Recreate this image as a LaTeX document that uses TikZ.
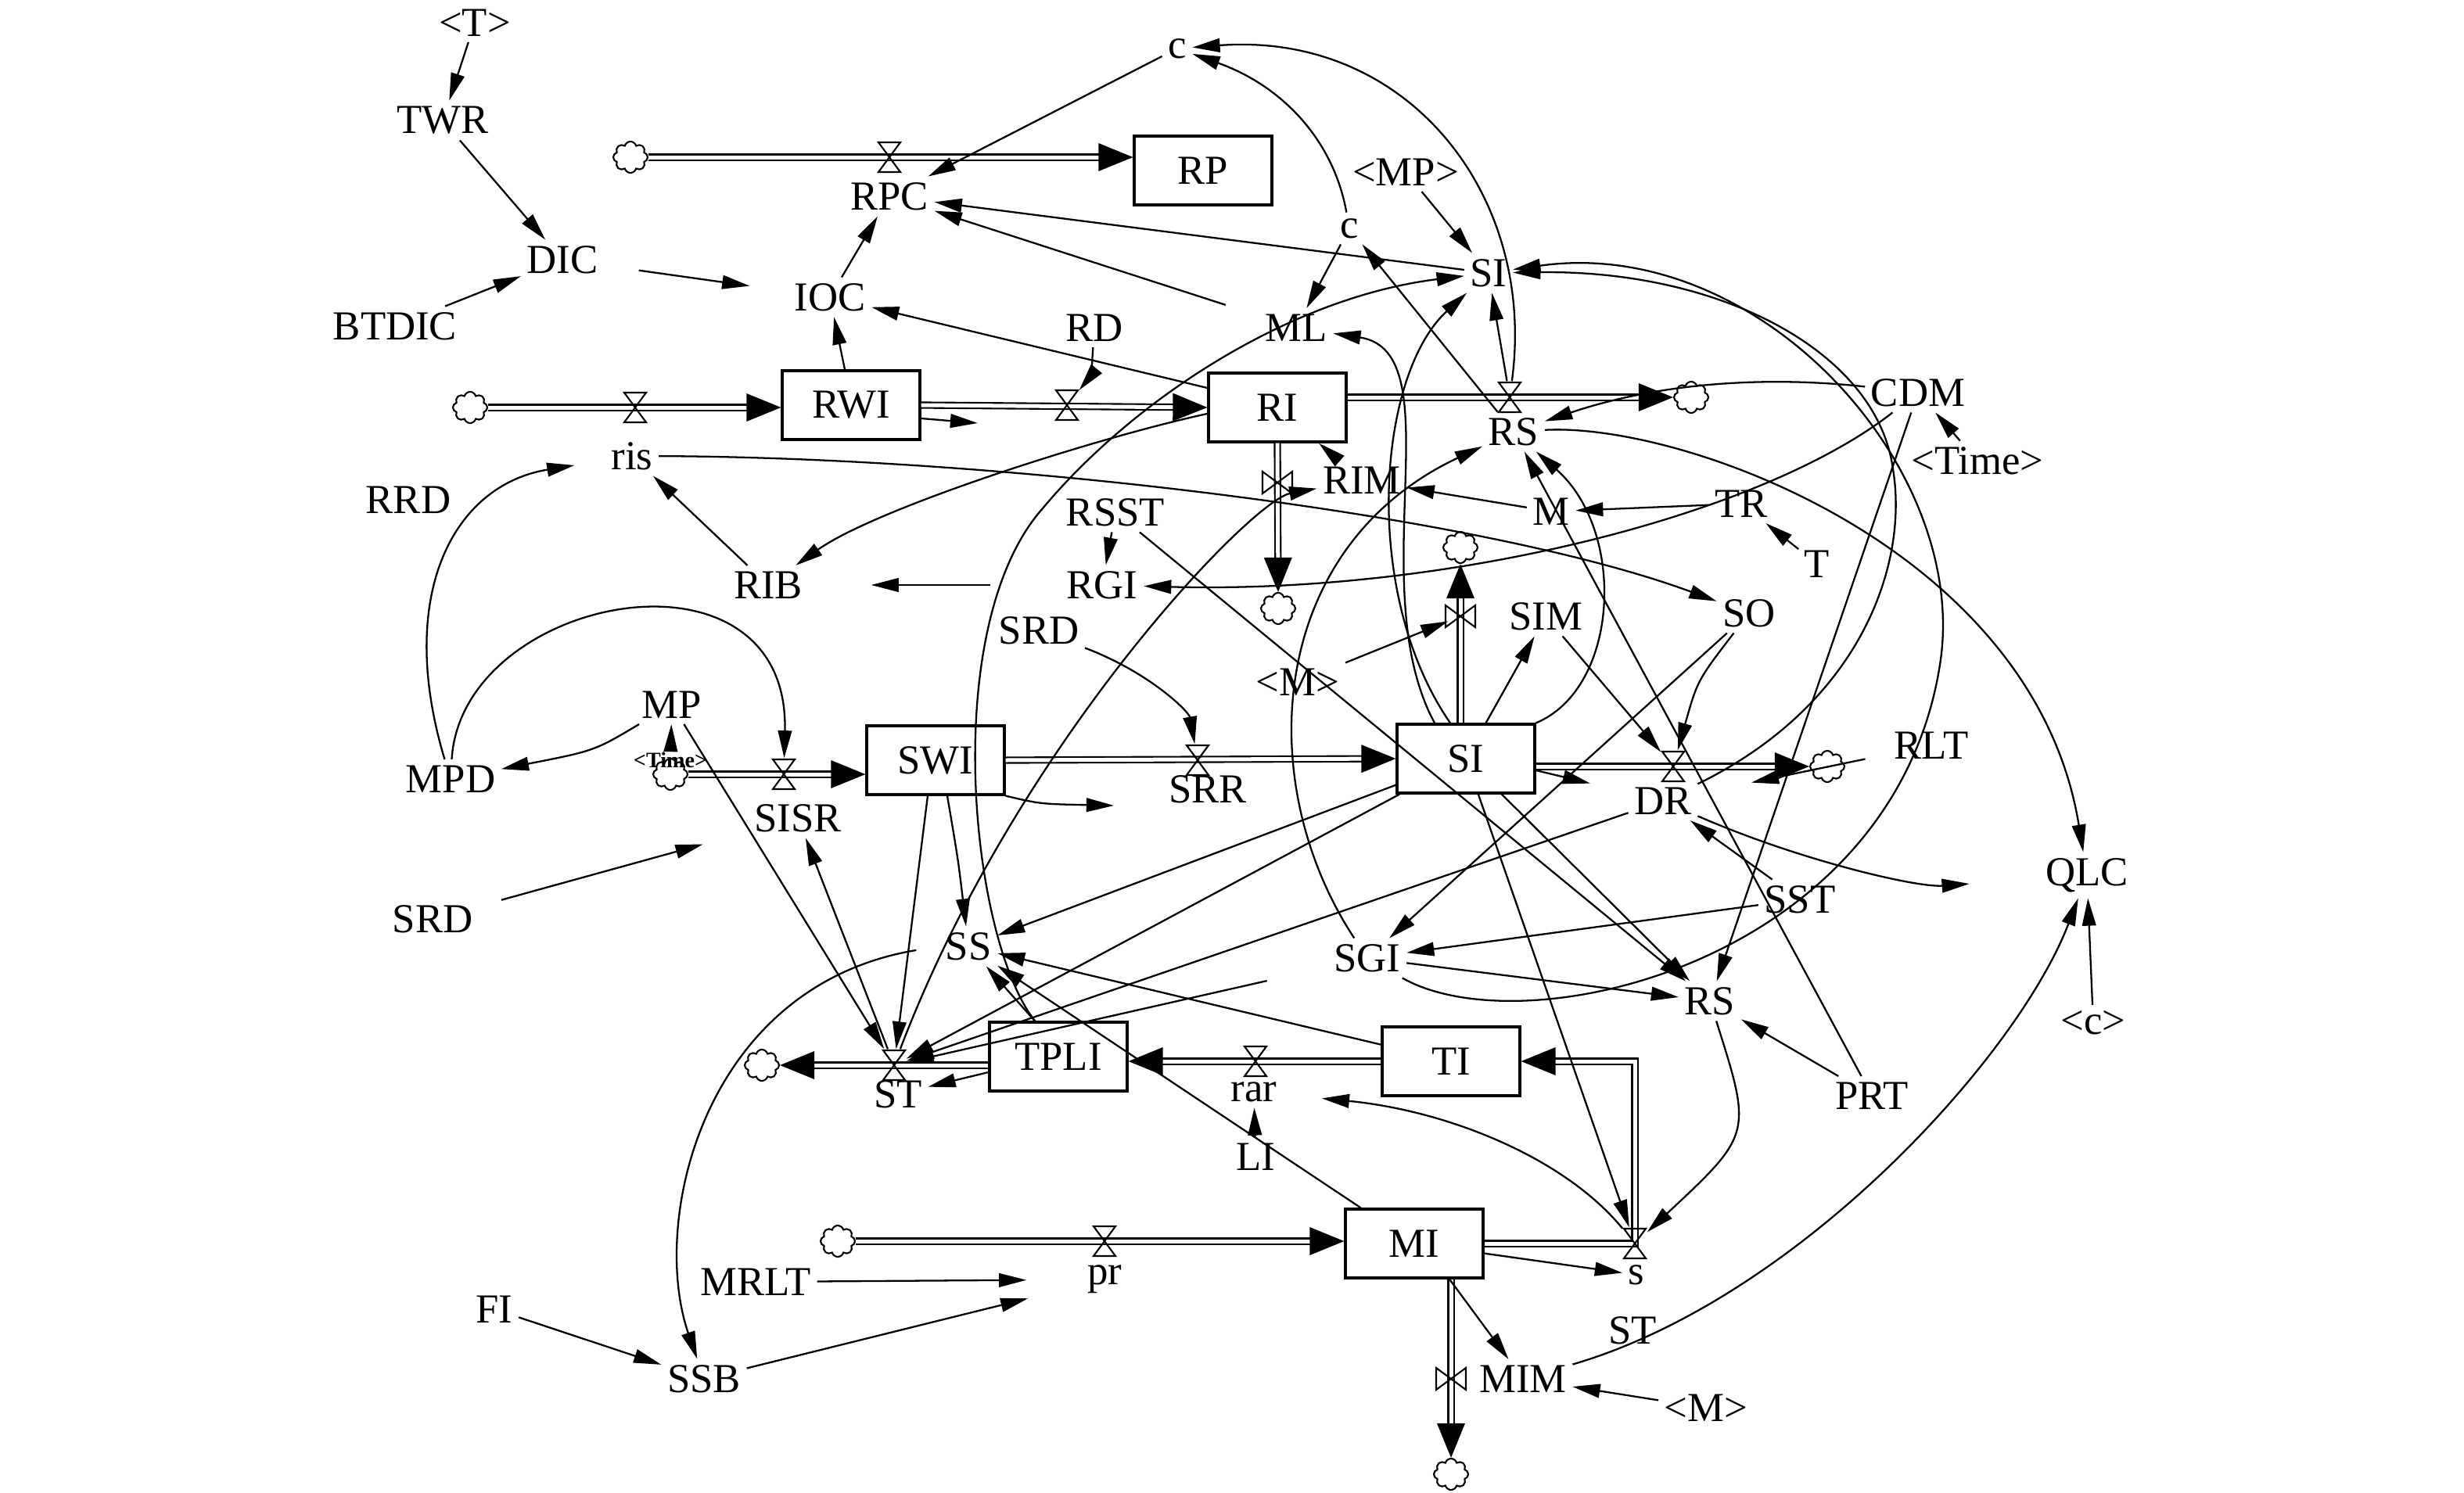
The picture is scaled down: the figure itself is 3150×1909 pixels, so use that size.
\documentclass[tikz,border=0pt]{standalone}
\usepackage{fontspec}
\setmainfont{Liberation Serif}
\usetikzlibrary{arrows.meta,calc,shapes.symbols}
\newcommand\lab{\fontsize{15}{17}\selectfont}
\newcommand\flow[2]{%
  \coordinate (fs) at #1; \coordinate (ft) at #2;
  \draw[pipe,shorten >=0.14cm] (fs) -- (ft);
  \coordinate (fb) at ($(ft)!0.44cm!(fs)$);
  \fill (ft) -- ($(fb)!0.18cm!90:(ft)$) -- ($(fb)!0.18cm!-90:(ft)$) -- cycle;}
\newcommand\vh[1]{\draw[valve] (#1) ++(-14,-19) -- ++(28,0) -- ++(-28,38) -- ++(28,0) -- cycle;}
\newcommand\vv[1]{\draw[valve] (#1) ++(-19,-14) -- ++(0,28) -- ++(38,-28) -- ++(0,28) -- cycle;}
\begin{document}
\begin{tikzpicture}[x=0.01cm,y=-0.01cm,
  lab/.style={font=\lab, inner sep=2pt},
  small/.style={font=\fontsize{8}{9}\selectfont\bfseries, inner sep=1pt},
  box/.style={draw, line width=0.9pt, fill=white, minimum width=1.76cm, minimum height=0.88cm, font=\lab, inner sep=0pt},
  cl/.style={cloud, draw, fill=white, cloud puffs=8, aspect=1.1, minimum width=0.44cm, minimum height=0.4cm, inner sep=0pt, line width=0.6pt},
  vn/.style={inner sep=0pt, minimum width=0.3cm, minimum height=0.4cm},
  valve/.style={line width=0.6pt},
  pipe/.style={double=white, double distance=0.05cm, line width=0.6pt},
  lk/.style={line width=0.65pt, -{Triangle[length=10pt,width=5pt]}}]
\useasboundingbox (0,0) rectangle (3150,1909);

% ---------- labels ----------
\node[lab] (Tt) at (607,29) {<T>};
\node[lab] (TWR) at (566,154) {TWR};
\node[lab] (DIC) at (719,332) {DIC};
\node[lab] (BTDIC) at (505,417) {BTDIC};
\node[lab] (RPC) at (1137,251) {RPC};
\node[lab] (IOC) at (1061,380) {IOC};
\node[lab] (cA) at (1505,62) {c};
\node[lab] (MPs) at (1797,220) {<MP>};
\node[lab] (cB) at (1725,292) {c};
\node[lab] (SIt) at (1903,349) {SI};
\node[lab] (ML) at (1657,419) {ML};
\node[lab] (RD) at (1399,419) {RD};
\node[lab] (RSt) at (1935,552) {RS};
\node[lab] (CDM) at (2452,502) {CDM};
\node[lab] (Time1) at (2528,589) {<Time>};
\node[lab] (ris) at (808,583) {ris};
\node[lab] (RRD) at (522,639) {RRD};
\node[lab] (RIM) at (1741,614) {RIM};
\node[lab] (TR) at (2226,644) {TR};
\node[lab] (M) at (1983,654) {M};
\node[lab] (T) at (2323,721) {T};
\node[lab] (RSST) at (1426,655) {RSST};
\node[lab] (RGI) at (1409,748) {RGI};
\node[lab] (RIB) at (982,748) {RIB};
\node[lab] (SO) at (2236,784) {SO};
\node[lab] (SIM) at (1976,788) {SIM};
\node[lab] (SRDu) at (1328,806) {SRD};
\node[lab] (Mmid) at (1659,872) {<M>};
\node[lab] (MP) at (859,901) {MP};
\node[lab] (MPD) at (576,996) {MPD};
\node[lab] (RLT) at (2469,953) {RLT};
\node[lab] (SRR) at (1544,1009) {SRR};
\node[lab] (DR) at (2126,1024) {DR};
\node[lab] (SISR) at (1020,1046) {SISR};
\node[lab] (QLC) at (2668,1119) {QLC};
\node[lab] (SST) at (2301,1150) {SST};
\node[lab] (SRDl) at (553,1175) {SRD};
\node[lab] (SS) at (1238,1210) {SS};
\node[lab] (SGI) at (1748,1225) {SGI};
\node[lab] (RSl) at (2186,1280) {RS};
\node[lab] (cC) at (2676,1308) {<c>};
\node[lab] (ST) at (1148,1399) {ST};
\node[lab] (rar) at (1603,1396) {rar};
\node[lab] (PRT) at (2393,1401) {PRT};
\node[lab] (LI) at (1605,1479) {LI};
\node[lab] (s) at (2092,1630) {s};
\node[lab] (pr) at (1412,1636) {pr};
\node[lab] (MRLT) at (966,1639) {MRLT};
\node[lab] (FI) at (632,1674) {FI};
\node[lab] (STr) at (2087,1701) {ST};
\node[lab] (MIM) at (1947,1763) {MIM};
\node[lab] (SSB) at (900,1763) {SSB};
\node[lab] (Mlow) at (2181,1800) {<M>};

% ---------- stocks ----------
\node[box] (RP) at (1538,218) {RP};
\node[box] (RWI) at (1088,518) {RWI};
\node[box] (RI) at (1633,521) {RI};
\node[box] (SWI) at (1196,972) {SWI};
\node[box] (SI) at (1874,970) {SI};
\node[box] (TPLI) at (1353,1351) {TPLI};
\node[box] (TI) at (1855,1357) {TI};
\node[box] (MI) at (1808,1590) {MI};

% ---------- clouds ----------
\node[cl] (cl1) at (806,201) {};
\node[cl] (cl2) at (601,521) {};
\node[cl] (cl3) at (2162,508) {};
\node[cl] (cl4) at (1634,778) {};
\node[cl] (cl5) at (857,990) {};
\node[cl] (cl6) at (1867,700) {};
\node[cl] (cl7) at (2336,980) {};
\node[cl] (cl8) at (974,1362) {};
\node[cl] (cl9) at (1071,1587) {};
\node[cl] (cl10) at (1855,1885) {};
\node[small] (Time2) at (857,972) {<Time>};

% ---------- valve positions ----------
\node[vn] (vRPC) at (1137,201) {};
\node[vn] (vris) at (812,521) {};
\node[vn] (vRD) at (1364,518) {};
\node[vn] (vRSt) at (1930,508) {};
\node[vn] (vRIM) at (1633,617) {};
\node[vn] (vSISR) at (1002,990) {};
\node[vn] (vSRR) at (1531,972) {};
\node[vn] (vSIM) at (1867,788) {};
\node[vn] (vDR) at (2139,980) {};
\node[vn] (vRAR) at (1605,1357) {};
\node[vn] (vST) at (1143,1362) {};
\node[vn] (vS) at (2090,1590) {};
\node[vn] (vPR) at (1412,1587) {};
\node[vn] (vMIM) at (1855,1763) {};

% ---------- flows ----------
\flow{(cl1.east)}{(RP.west |- cl1)}
\flow{(cl2.east)}{(RWI.west |- cl2)}
\flow{(RWI.east)}{(RI.west)}
\flow{(RI.east |- cl3)}{(cl3.west)}
\flow{(RI.south)}{(cl4.north)}
\flow{(cl5.east)}{(SWI.west |- cl5)}
\flow{(SWI.east)}{(SI.west)}
\flow{(cl6 |- SI.north)}{(cl6.south)}
\flow{(SI.east |- cl7)}{(cl7.west)}
\flow{(TI.west)}{(TPLI.east |- TI.west)}
\flow{(TPLI.west |- cl8)}{(cl8.east)}
\flow{(cl9.east)}{(MI.west |- cl9)}
\flow{(cl10 |- MI.south)}{(cl10.north)}
\draw[pipe] (MI.east |- vS) -- (vS.center) -- (vS |- TI.east) -- ([xshift=0.14cm]TI.east);
\coordinate (fb) at ($(TI.east)+(44,0)$);
\fill (TI.east) -- ($(fb)+(0,-18)$) -- ($(fb)+(0,18)$) -- cycle;

\vh{vRPC} \vh{vris} \vh{vRD} \vh{vRSt} \vv{vRIM} \vh{vSISR} \vh{vSRR}
\vv{vSIM} \vh{vDR} \vh{vRAR} \vh{vST} \vh{vS} \vh{vPR} \vv{vMIM}

% ---------- links ----------
\draw[lk] (Tt) -- (TWR);
\draw[lk] (TWR) -- (DIC);
\draw[lk] (BTDIC) -- (DIC);
\draw[lk,shorten <=0.45cm,shorten >=0.5cm] (DIC) -- (IOC);
\draw[lk] (IOC) -- (RPC);
\draw[lk] ([xshift=-0.08cm]RWI.north) -- (IOC);
\draw[lk] (cA) -- (RPC);
\draw[lk] (SIt) -- (RPC);
\draw[lk,shorten <=0.45cm] (ML) -- (RPC);
\draw[lk] (vRSt) .. controls (1965,250) and (1800,40) .. (cA);
\draw[lk] (cB) .. controls (1705,180) and (1640,110) .. (cA);
\draw[lk] (MPs) -- (SIt);
\draw[lk] (cB) -- (ML);
\draw[lk] (vRSt) -- (SIt);
\draw[lk] (RSt) -- (cB);
\draw[lk] ([yshift=0.25cm]RI.west) -- (IOC);
\draw[lk] (RD) .. controls (1395,480) .. (vRD);
\coordinate (e1) at (1250,541);
\draw[lk] ([yshift=-0.17cm]RWI.east) -- (e1);
\draw[lk] ([yshift=-0.08cm]RI.west) .. controls (1400,560) and (1120,650) .. (RIB);
\draw[lk] (ris) .. controls (1300,585) and (1900,660) .. (SO);
\draw[lk] (RIB) -- (ris);
\draw[lk,shorten <=0.9cm,shorten >=0.8cm] (RGI) -- (RIB);
\draw[lk] (RSST) -- (RGI);
\draw[lk,shorten >=0.4cm] (MPD) .. controls (505,760) and (580,620) .. (ris);
\draw[lk] (MPD) .. controls (590,760) and (1010,680) .. (vSISR);
\draw[lk] (MP) .. controls (760,960) .. (MPD);
\draw[lk] (Time2) -- (MP);
\draw[lk,shorten <=0.3cm,shorten >=0.6cm] (SRDl) -- (SISR);
\draw[lk] (MP) -- (vST);
\draw[lk] (vST) -- (SISR);
\draw[lk] (SRDu) .. controls (1470,860) and (1520,910) .. (vSRR);
\coordinate (e2) at (1424,1030);
\draw[lk] (SWI.south east) .. controls (1330,1028) .. (e2);
\draw[lk] ([xshift=0.15cm]SWI.south) .. controls (1225,1100) .. (SS);
\draw[lk] ([xshift=-0.1cm]SWI.south) -- (vST);
\draw[lk] ([xshift=-0.3cm]TPLI.north) .. controls (1240,1200) and (1200,800) .. (1333,650) .. controls (1450,510) and (1650,380) .. (SIt);
\draw[lk] ([xshift=-0.4cm]SI.north) .. controls (1740,750) and (1860,450) .. (ML);
\draw[lk] ([xshift=-0.2cm]SI.north) .. controls (1740,760) and (1760,480) .. (SIt);
\draw[lk] (SGI) .. controls (1600,1000) and (1620,700) .. (RSt);
\draw[lk] (vST) .. controls (1300,950) and (1600,640) .. (RIM);
\draw[lk] (CDM) .. controls (2300,485) and (2150,480) .. (RSt);
\draw[lk] (Time1) -- (CDM);
\draw[lk] (CDM) .. controls (2250,660) and (1850,760) .. (RGI);
\draw[lk] (TR) -- (M);
\draw[lk] (T) -- (TR);
\draw[lk] (M) -- (RIM);
\draw[lk] (RIM) -- (RI);
\draw[lk] (PRT) -- (RSt);
\draw[lk] (SI.north east) .. controls (2070,880) and (2080,680) .. (RSt);
\draw[lk] (RSt) .. controls (2150,540) and (2600,700) .. (QLC);
\draw[lk] (SGI) .. controls (1950,1340) and (2420,1230) .. (2480,850) .. controls (2520,600) and (2250,300) .. (SIt);
\draw[lk] (DR) .. controls (2380,900) and (2440,720) .. (2420,600) .. controls (2400,450) and (2200,345) .. (SIt);
\draw[lk,shorten <=0.3cm,shorten >=0.7cm] (RLT) -- (DR);
\draw[lk,shorten >=0.5cm] ([yshift=-0.15cm]SI.east) -- (DR);
\draw[lk] (SO) -- (SGI);
\draw[lk] (SO) .. controls (2170,870) .. (vDR);
\draw[lk] (SIM) -- (vDR);
\draw[lk] (Mmid) -- (vSIM);
\draw[lk] (SI) -- (SIM);
\draw[lk] (RSST) -- (RSl);
\draw[lk] (SI) -- (RSl);
\draw[lk] (CDM) -- (RSl);
\draw[lk] (SGI) -- (RSl);
\draw[lk] (SST) -- (SGI);
\draw[lk] (SST) -- (DR);
\draw[lk,shorten >=0.9cm] (DR) .. controls (2300,1100) and (2450,1135) .. (QLC);
\draw[lk] (PRT) -- (RSl);
\draw[lk] (RSl) .. controls (2240,1450) .. (vS);
\draw[lk] (SI) -- (vS);
\draw[lk] (MI) -- (s);
\draw[lk,shorten >=0.5cm] (vS) .. controls (2000,1480) and (1850,1420) .. (rar);
\draw[lk] (LI) -- (rar);
\draw[lk] (MI) -- (SS);
\draw[lk] (TI) -- (SS);
\draw[lk] ([xshift=-0.3cm]TPLI.north) -- (SS);
\draw[lk] ([yshift=-0.2cm]TPLI.west) -- (ST);
\draw[lk] (SI) -- (SS);
\draw[lk] (SI) -- (vST);
\draw[lk] (DR) -- (vST);
\draw[lk,shorten <=0.8cm] (SGI) -- (vST);
\draw[lk,shorten <=0.3cm] (SS.west) .. controls (900,1260) and (830,1560) .. (SSB);
\draw[lk] (FI) -- (SSB);
\draw[lk,shorten >=0.7cm] (SSB) -- (pr);
\draw[lk,shorten >=0.7cm] (MRLT) -- (pr);
\draw[lk] ([xshift=0.45cm]MI.south) -- (MIM);
\draw[lk] (Mlow) -- (MIM);
\draw[lk] (MIM) .. controls (2300,1660) and (2580,1350) .. (QLC);
\draw[lk] (cC) -- (QLC);
\end{tikzpicture}
\end{document}
